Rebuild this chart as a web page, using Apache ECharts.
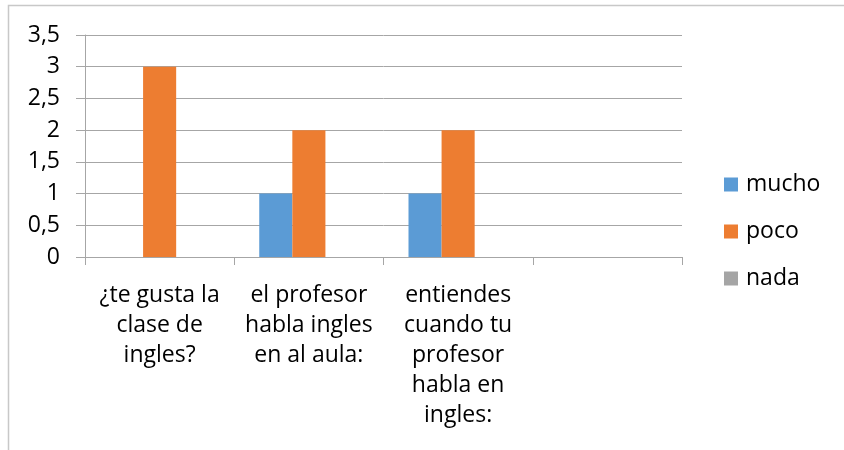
<!DOCTYPE html>
<html><head><meta charset="utf-8">
<script src="https://cdn.jsdelivr.net/npm/echarts@6/dist/echarts.min.js"></script>
<style>html,body{margin:0;padding:0;background:#fff}#c{width:844px;height:450px}</style>
</head><body><div id="c"></div>
<script>
const categories = ['¿te gusta la\nclase de\ningles?', 'el profesor\nhabla ingles\nen al aula:', 'entiendes\ncuando tu\nprofesor\nhabla en\ningles:', ''];
const seriesNames = ['mucho', 'poco', 'nada'];
const mucho = [0, 1, 1, 0];
const poco = [3, 2, 2, 0];
const nada = [0, 0, 0, 0];
const yTicks = [0, 0.5, 1, 1.5, 2, 2.5, 3, 3.5];
const colors = ['#5B9BD5', '#ED7D31', '#A5A5A5'];

const font = 'Open Sans';
const chart = echarts.init(document.getElementById('c'), null, {renderer: 'canvas'});
const values = [mucho, poco, nada];
chart.setOption({
  animation: false,
  color: colors,
  graphic: [{type: 'rect', shape: {x: 8.5, y: 5.5, width: 900, height: 500}, style: {fill: 'none', stroke: '#c8c8c8', lineWidth: 1.5}}],
  grid: {left: 85, right: 162, top: 35, bottom: 193},
  legend: {
    orient: 'vertical', left: 719, top: 168, itemGap: 24, itemWidth: 14, itemHeight: 14,
    icon: 'rect', data: seriesNames,
    textStyle: {fontFamily: font, fontSize: 23, color: '#000', padding: [0, 0, 0, 3]}
  },
  xAxis: {
    type: 'category', data: categories,
    axisLine: {lineStyle: {color: '#a6a6a6', width: 1}},
    axisTick: {show: true, length: 8, lineStyle: {color: '#a6a6a6'}},
    axisLabel: {interval: 0, margin: 24, fontFamily: font, fontSize: 23, color: '#000', lineHeight: 29.8, align: 'center'}
  },
  yAxis: {
    type: 'value', min: yTicks[0], max: yTicks[yTicks.length - 1], interval: 0.5,
    axisLine: {show: true, lineStyle: {color: '#a6a6a6'}},
    axisTick: {show: true, length: 9, lineStyle: {color: '#a6a6a6'}},
    splitLine: {lineStyle: {color: '#a6a6a6', width: 1}},
    axisLabel: {margin: 25, fontFamily: font, fontSize: 23, color: '#000',
      formatter: v => String(v).replace('.', ',')}
  },
  series: seriesNames.map((n, i) => ({
    name: n, type: 'bar', data: values[i], barGap: '0%', barCategoryGap: '33.5%'
  }))
});
</script></body></html>
